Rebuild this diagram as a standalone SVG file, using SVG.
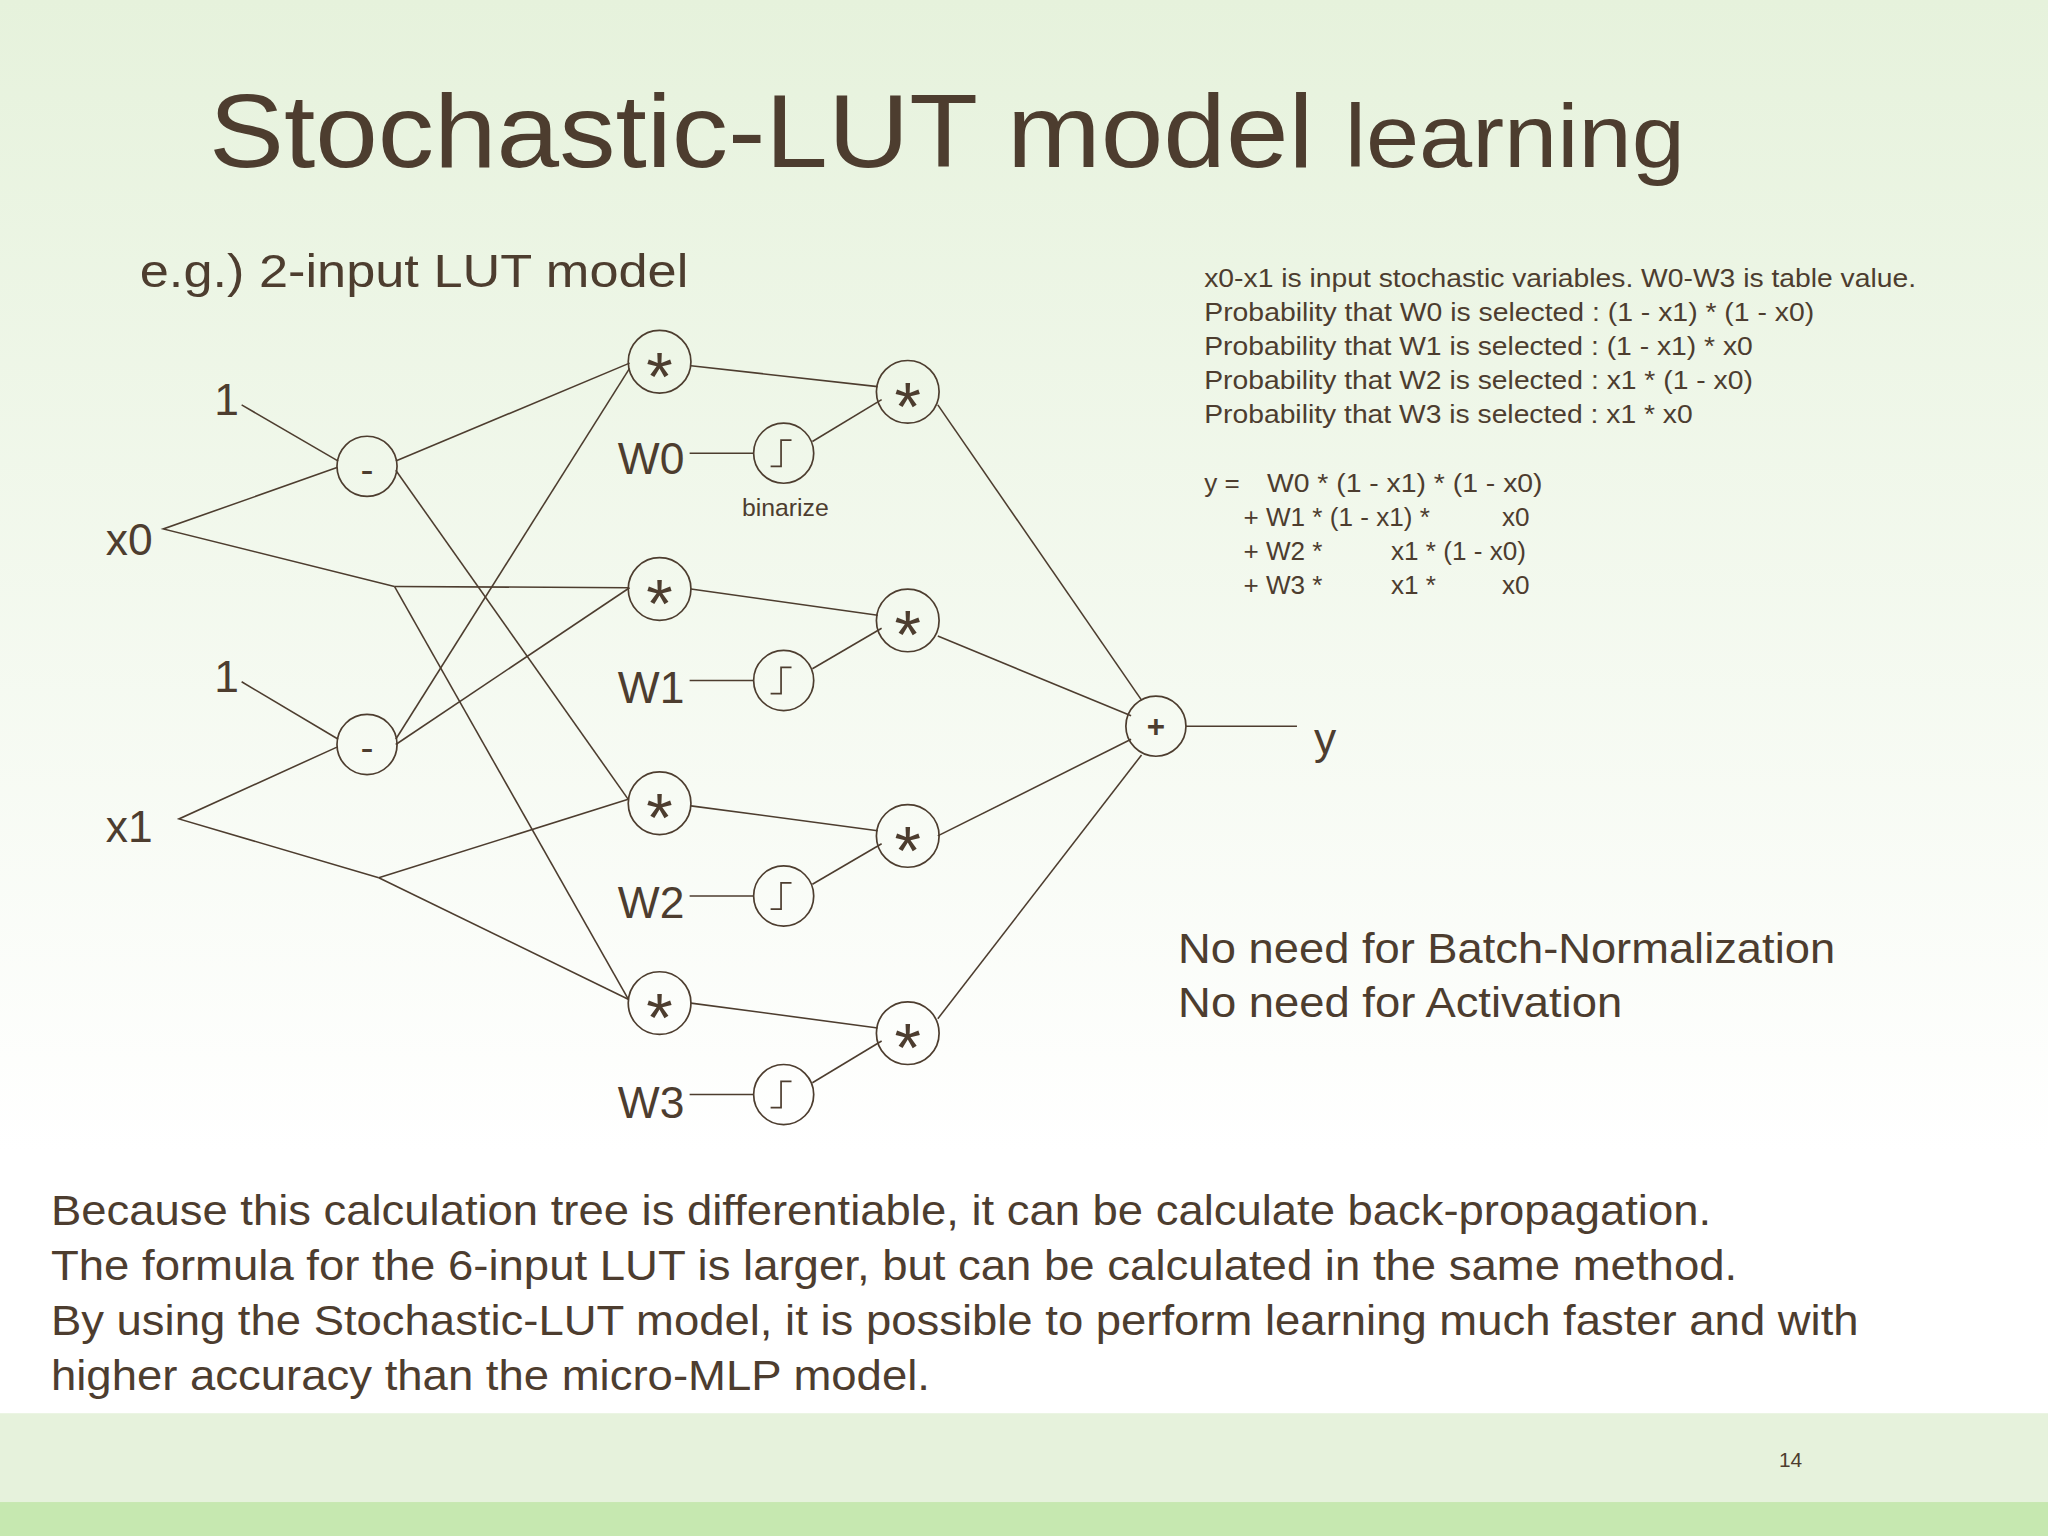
<svg xmlns="http://www.w3.org/2000/svg" width="2048" height="1536" viewBox="0 0 2048 1536">
<defs>
<linearGradient id="bg" x1="0" y1="0" x2="0" y2="1">
<stop offset="0" stop-color="#e6f2dc"/><stop offset="0.75" stop-color="#ffffff"/><stop offset="1" stop-color="#ffffff"/>
</linearGradient>
<style>
text{font-family:"Liberation Sans",Arial,sans-serif;fill:#4d3d2f}
.n circle{fill:none;stroke:#4d3d2f;stroke-width:1.3}
.c line,.c polyline{stroke:#4d3d2f;stroke-width:1.2;fill:none}
.op{font-size:52px;text-anchor:middle}
.mn{font-size:30px;text-anchor:middle}
.pl{font-size:24px;text-anchor:middle;font-weight:bold}
.st{stroke:#4d3d2f;stroke-width:1.3;fill:none}
.lab{font-size:34px}
</style>
</defs>
<rect width="2048" height="1536" fill="url(#bg)"/>
<g transform="scale(1.30612)">
<rect x="0" y="1082" width="1568" height="68" fill="#e6f2dc"/>
<rect x="0" y="1150" width="1568" height="26" fill="#c6e8b0"/>
<text x="1362" y="1123" font-size="16">14</text>
<text x="160" y="128" font-size="80" textLength="1130" lengthAdjust="spacingAndGlyphs">Stochastic-LUT model <tspan font-size="68">learning</tspan></text>
<text x="107" y="220" font-size="36" textLength="420" lengthAdjust="spacingAndGlyphs">e.g.) 2-input  LUT model</text>
<g id="conn" class="c">
<line x1="185" y1="310" x2="259" y2="353"/>
<line x1="185" y1="522" x2="259" y2="566"/>
<polyline points="258,358 125,405 302,449"/>
<line x1="302" y1="449" x2="481" y2="450"/>
<line x1="302" y1="449" x2="481" y2="765"/>
<polyline points="258,572 137,627 290,672"/>
<line x1="290" y1="672" x2="481" y2="612"/>
<line x1="290" y1="672" x2="481" y2="765"/>
<line x1="303" y1="353" x2="482" y2="278"/>
<line x1="303" y1="360" x2="481" y2="612"/>
<line x1="303" y1="566" x2="482" y2="282"/>
<line x1="303" y1="570" x2="482" y2="450"/>
<line x1="529" y1="280" x2="672" y2="296"/>
<line x1="529" y1="451" x2="672" y2="471"/>
<line x1="529" y1="617" x2="672" y2="636"/>
<line x1="529" y1="768" x2="672" y2="787"/>
<line x1="528" y1="347" x2="577" y2="347"/>
<line x1="528" y1="521" x2="577" y2="521"/>
<line x1="528" y1="686" x2="577" y2="686"/>
<line x1="528" y1="838" x2="577" y2="838"/>
<line x1="622" y1="338" x2="675" y2="306"/>
<line x1="622" y1="512" x2="675" y2="481"/>
<line x1="622" y1="677" x2="675" y2="646"/>
<line x1="622" y1="829" x2="675" y2="797"/>
<line x1="718" y1="310" x2="874" y2="536"/>
<line x1="718" y1="487" x2="866" y2="548"/>
<line x1="718" y1="640" x2="866" y2="566"/>
<line x1="718" y1="780" x2="874" y2="578"/>
<line x1="908" y1="556" x2="993" y2="556"/>
</g>
<text class="lab" x="164" y="318">1</text>
<text class="lab" x="164" y="530">1</text>
<text class="lab" x="81" y="425">x0</text>
<text class="lab" x="81" y="645">x1</text>
<text class="lab" x="1006" y="577">y</text>
<g id="m0" class="n"><circle cx="281" cy="357" r="23"/><text class="mn" x="281" y="370">-</text></g>
<g id="m1" class="n"><circle cx="281" cy="570" r="23"/><text class="mn" x="281" y="583">-</text></g>
<g id="a0" class="n"><circle cx="505" cy="277" r="24"/><text class="op" x="505" y="306">*</text></g>
<g id="a1" class="n"><circle cx="505" cy="451" r="24"/><text class="op" x="505" y="480">*</text></g>
<g id="a2" class="n"><circle cx="505" cy="615" r="24"/><text class="op" x="505" y="644">*</text></g>
<g id="a3" class="n"><circle cx="505" cy="768" r="24"/><text class="op" x="505" y="797">*</text></g>
<g id="b0" class="n"><circle cx="695" cy="300" r="24"/><text class="op" x="695" y="329">*</text></g>
<g id="b1" class="n"><circle cx="695" cy="475" r="24"/><text class="op" x="695" y="504">*</text></g>
<g id="b2" class="n"><circle cx="695" cy="640" r="24"/><text class="op" x="695" y="669">*</text></g>
<g id="b3" class="n"><circle cx="695" cy="791" r="24"/><text class="op" x="695" y="820">*</text></g>
<g id="plus" class="n"><circle cx="885" cy="556" r="23"/><text class="pl" x="885" y="564">+</text></g>
<g id="s0" class="n"><circle cx="600" cy="347" r="23"/><path class="st" d="M590,357h8v-20h8"/><text class="lab" x="473" y="363">W0</text></g>
<g id="s1" class="n"><circle cx="600" cy="521" r="23"/><path class="st" d="M590,531h8v-20h8"/><text class="lab" x="473" y="538">W1</text></g>
<g id="s2" class="n"><circle cx="600" cy="686" r="23"/><path class="st" d="M590,696h8v-20h8"/><text class="lab" x="473" y="703">W2</text></g>
<g id="s3" class="n"><circle cx="600" cy="838" r="23"/><path class="st" d="M590,848h8v-20h8"/><text class="lab" x="473" y="856">W3</text></g>
<text x="568" y="395" font-size="19">binarize</text>
<g font-size="20">
<text x="922" y="220" textLength="545" lengthAdjust="spacingAndGlyphs">x0-x1 is input stochastic variables. W0-W3 is table value.</text>
<text x="922" y="246" textLength="467" lengthAdjust="spacingAndGlyphs">Probability that W0 is selected : (1 - x1) * (1 - x0)</text>
<text x="922" y="272" textLength="420" lengthAdjust="spacingAndGlyphs">Probability that W1 is selected : (1 - x1) * x0</text>
<text x="922" y="298" textLength="420" lengthAdjust="spacingAndGlyphs">Probability that W2 is selected : x1 * (1 - x0)</text>
<text x="922" y="324" textLength="374" lengthAdjust="spacingAndGlyphs">Probability that W3 is selected : x1 * x0</text>
<text x="922" y="377">y =</text><text x="970" y="377" textLength="211" lengthAdjust="spacingAndGlyphs">W0 * (1 - x1) * (1 - x0)</text>
<text x="952" y="403">+ W1 * (1 - x1) *</text><text x="1150" y="403">x0</text>
<text x="952" y="429">+ W2 *</text><text x="1065" y="429">x1 * (1 - x0)</text>
<text x="952" y="455">+ W3 *</text><text x="1065" y="455">x1 *</text><text x="1150" y="455">x0</text>
</g>
<g font-size="32">
<text x="902" y="737" textLength="503" lengthAdjust="spacingAndGlyphs">No need for Batch-Normalization</text>
<text x="902" y="779" textLength="340" lengthAdjust="spacingAndGlyphs">No need for Activation</text>
<text x="39" y="938" textLength="1271" lengthAdjust="spacingAndGlyphs">Because this calculation tree is differentiable, it can be calculate back-propagation.</text>
<text x="39" y="980" textLength="1291" lengthAdjust="spacingAndGlyphs">The formula for the 6-input LUT is larger, but can be calculated in the same method.</text>
<text x="39" y="1022" textLength="1384" lengthAdjust="spacingAndGlyphs">By using the Stochastic-LUT model, it is possible to perform learning much faster and with</text>
<text x="39" y="1064" textLength="673" lengthAdjust="spacingAndGlyphs">higher accuracy than the micro-MLP model.</text>
</g>
</g>
</svg>
